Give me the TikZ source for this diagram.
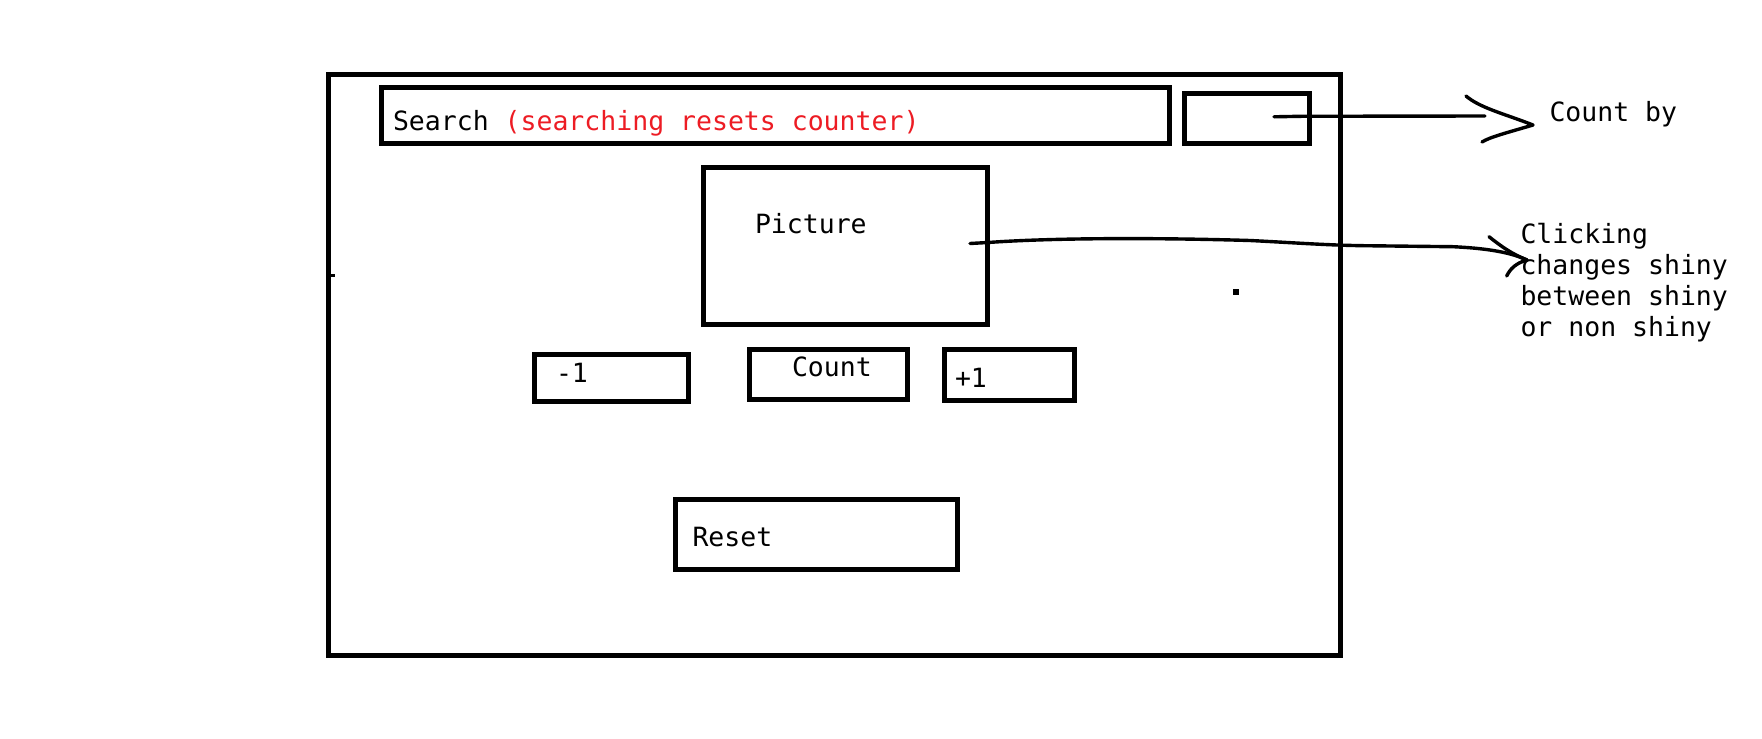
\documentclass[tikz,border=0pt]{standalone}
\usepackage{fontspec}
\newfontfamily\pmono{DejaVu Sans Mono}
\definecolor{paintred}{RGB}{237,28,36}
\begin{document}
\begin{tikzpicture}[x=1pt,y=-1pt,
  uibox/.style={draw=black,line width=5pt,inner sep=0pt,outer sep=0pt,rectangle},
  lbl/.style={inner sep=0pt,outer sep=0pt,anchor=base west,font=\pmono\fontsize{26.5}{31}\selectfont,text=black},
  pen/.style={draw=black,line width=3.4pt,line cap=round,line join=round}]
\useasboundingbox (0,0) rectangle (1762,739);
\fill[white] (0,0) rectangle (1762,739);

% boxes
\node[uibox,minimum width=1012pt,minimum height=581.5pt] (outer) at (834.5,364.75) {};
\node[uibox,minimum width=788pt,minimum height=56pt] (search) at (775,115) {};
\node[uibox,minimum width=125pt,minimum height=50pt] (countbybox) at (1246.5,118) {};
\node[uibox,minimum width=284pt,minimum height=157.5pt] (picture) at (845,245.75) {};
\node[uibox,minimum width=154pt,minimum height=47pt] (minus) at (611,377.5) {};
\node[uibox,minimum width=158pt,minimum height=50.5pt] (count) at (828,374.25) {};
\node[uibox,minimum width=130pt,minimum height=51.5pt] (plus) at (1009,374.75) {};
\node[uibox,minimum width=281.5pt,minimum height=70.5pt] (reset) at (816.25,534.25) {};

% labels
\node[lbl] (searchtxt) at (393,130) {Search {\color{paintred}(searching resets counter)}};
\node[lbl] (picturetxt) at (755,233.3) {Picture};
\node[lbl] (minustxt) at (556,382.3) {-1};
\node[lbl] (counttxt) at (792,376.7) {Count};
\node[lbl] (plustxt) at (955,387.5) {+1};
\node[lbl] (resettxt) at (692.5,546) {Reset};
\node[lbl] (countbytxt) at (1549.5,121) {Count by};
\node[lbl] (click1) at (1520.5,243.3) {Clicking};
\node[lbl] (click2) at (1520.5,274) {changes shiny};
\node[lbl] (click3) at (1520.5,305) {between shiny};
\node[lbl] (click4) at (1520.5,336) {or non shiny};

% connector 1
\coordinate (a1s) at (1274,116.8);
\coordinate (a1e) at (1485,116);
\coordinate (a1t) at (1533,125);
\draw[pen] (a1s) -- (1300,116.3) -- (a1e);
\draw[pen] (1466,96) .. controls (1480,108) and (1505,114) .. (a1t)
           .. controls (1506,133) and (1490,137) .. (1482,142);

% connector 2
\coordinate (a2s) at (970,243.5);
\coordinate (a2t) at (1527,260);
\draw[pen] (a2s) -- (988,242.5) .. controls (1050,238) and (1150,237.5) .. (1250,240.5)
           .. controls (1300,243) and (1330,245.5) .. (1373,245.8) -- (1453,246.7)
           .. controls (1480,248) and (1508,251) .. (a2t);
\draw[pen] (1489,236.7) .. controls (1502,247) and (1512,254) .. (a2t)
           .. controls (1516,263) and (1510,269) .. (1506.7,276);

% stray marks
\fill[black] (330,273.5) rectangle (335,276.5);
\fill[black] (1233,289) rectangle (1239,295);
\end{tikzpicture}
\end{document}
